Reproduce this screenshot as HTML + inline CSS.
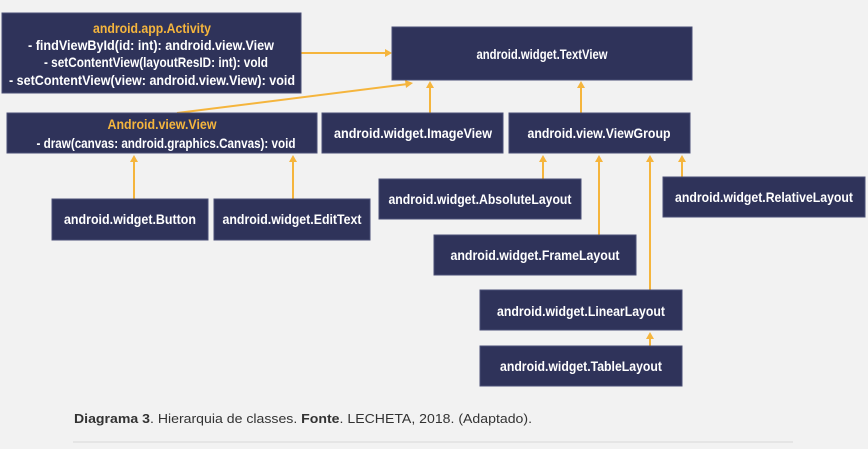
<!DOCTYPE html>
<html><head><meta charset="utf-8"><style>
html,body{margin:0;padding:0;background:#f2f2f2;}
svg{display:block;}
.b{fill:#2f335a;stroke:#4a4f75;stroke-width:1}
.t{font-family:"Liberation Sans",sans-serif;font-weight:bold;font-size:14px;fill:#fff;}
.o{fill:#f5b53d;}
.l{stroke:#f5b53d;stroke-width:2;fill:none}
.a{fill:#f5b53d}
</style></head><body>
<svg width="868" height="449" viewBox="0 0 868 449" xmlns="http://www.w3.org/2000/svg">
<rect x="0" y="0" width="868" height="449" fill="#f2f2f2"/>
<line class="l" x1="301" y1="53" x2="388" y2="53"/><polygon class="a" points="392,53 385,49 385,57"/>
<line class="l" x1="177" y1="113" x2="408" y2="84"/><polygon class="a" points="413,83 405,80 406,88"/>
<line class="l" x1="430" y1="113" x2="430" y2="86"/><polygon class="a" points="430,81 426,88 434,88"/>
<line class="l" x1="581" y1="113" x2="581" y2="86"/><polygon class="a" points="581,81 577,88 585,88"/>
<line class="l" x1="134" y1="199" x2="134" y2="160"/><polygon class="a" points="134,155 130,162 138,162"/>
<line class="l" x1="293" y1="199" x2="293" y2="160"/><polygon class="a" points="293,155 289,162 297,162"/>
<line class="l" x1="543" y1="179" x2="543" y2="160"/><polygon class="a" points="543,155 539,162 547,162"/>
<line class="l" x1="599" y1="235" x2="599" y2="160"/><polygon class="a" points="599,155 595,162 603,162"/>
<line class="l" x1="650" y1="290" x2="650" y2="160"/><polygon class="a" points="650,155 646,162 654,162"/>
<line class="l" x1="682" y1="177" x2="682" y2="160"/><polygon class="a" points="682,155 678,162 686,162"/>
<line class="l" x1="650" y1="346" x2="650" y2="337"/><polygon class="a" points="650,332 646,339 654,339"/>

<rect class="b" x="2" y="13" width="299" height="80"/>
<text class="t o" x="152" y="33" text-anchor="middle" textLength="118" lengthAdjust="spacingAndGlyphs">android.app.Activity</text>
<text class="t" x="151" y="50" text-anchor="middle" textLength="246" lengthAdjust="spacingAndGlyphs">- findViewById(id: int): android.view.View</text>
<text class="t" x="156" y="67" text-anchor="middle" textLength="224" lengthAdjust="spacingAndGlyphs">- setContentView(layoutResID: int): vold</text>
<text class="t" x="152" y="85" text-anchor="middle" textLength="286" lengthAdjust="spacingAndGlyphs">- setContentView(view: android.view.View): void</text>

<rect class="b" x="7" y="113" width="310" height="40"/>
<text class="t o" x="162" y="129" text-anchor="middle" textLength="109" lengthAdjust="spacingAndGlyphs">Android.view.View</text>
<text class="t" x="166" y="148" text-anchor="middle" textLength="259" lengthAdjust="spacingAndGlyphs">- draw(canvas: android.graphics.Canvas): void</text>

<rect class="b" x="392" y="27" width="300" height="53"/>
<text class="t" x="542" y="59" text-anchor="middle" textLength="131" lengthAdjust="spacingAndGlyphs">android.widget.TextView</text>

<rect class="b" x="322" y="113" width="181" height="40"/>
<text class="t" x="413" y="138" text-anchor="middle" textLength="158" lengthAdjust="spacingAndGlyphs">android.widget.ImageView</text>
<rect class="b" x="509" y="113" width="181" height="40"/>
<text class="t" x="599" y="138" text-anchor="middle" textLength="143" lengthAdjust="spacingAndGlyphs">android.view.ViewGroup</text>

<rect class="b" x="52" y="199" width="156" height="41"/>
<text class="t" x="130" y="224" text-anchor="middle" textLength="132" lengthAdjust="spacingAndGlyphs">android.widget.Button</text>
<rect class="b" x="214" y="199" width="156" height="41"/>
<text class="t" x="292" y="224" text-anchor="middle" textLength="139" lengthAdjust="spacingAndGlyphs">android.widget.EditText</text>

<rect class="b" x="379" y="179" width="202" height="40"/>
<text class="t" x="480" y="204" text-anchor="middle" textLength="183" lengthAdjust="spacingAndGlyphs">android.widget.AbsoluteLayout</text>
<rect class="b" x="663" y="177" width="202" height="40"/>
<text class="t" x="764" y="202" text-anchor="middle" textLength="178" lengthAdjust="spacingAndGlyphs">android.widget.RelativeLayout</text>
<rect class="b" x="434" y="235" width="202" height="40"/>
<text class="t" x="535" y="260" text-anchor="middle" textLength="169" lengthAdjust="spacingAndGlyphs">android.widget.FrameLayout</text>
<rect class="b" x="480" y="290" width="202" height="40"/>
<text class="t" x="581" y="316" text-anchor="middle" textLength="168" lengthAdjust="spacingAndGlyphs">android.widget.LinearLayout</text>
<rect class="b" x="480" y="346" width="202" height="40"/>
<text class="t" x="581" y="371" text-anchor="middle" textLength="162" lengthAdjust="spacingAndGlyphs">android.widget.TableLayout</text>

<text x="74" y="423" font-family="Liberation Sans, sans-serif" font-size="13" fill="#333" textLength="458" lengthAdjust="spacingAndGlyphs"><tspan font-weight="bold">Diagrama 3</tspan>. Hierarquia de classes. <tspan font-weight="bold">Fonte</tspan>. LECHETA, 2018. (Adaptado).</text>
<line x1="73" y1="442" x2="793" y2="442" stroke="#d8d8d8" stroke-width="1"/>
</svg>
</body></html>
